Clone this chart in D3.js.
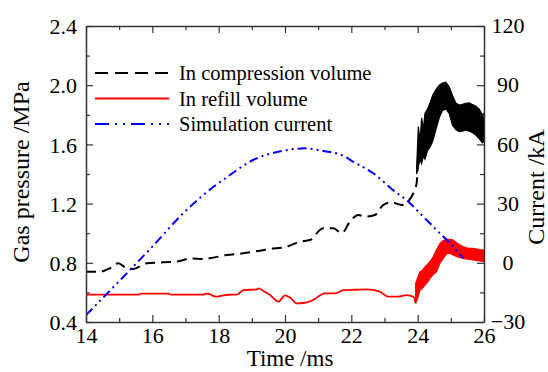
<!DOCTYPE html>
<html><head><meta charset="utf-8">
<script src="https://cdn.jsdelivr.net/npm/d3@7"></script>
<style>
body{margin:0;background:#fff;}
svg{display:block;}
svg text{font-family:"Liberation Serif","Times New Roman",serif !important;}
</style></head>
<body>
<svg id="c" width="548" height="372"></svg>
<script>
// ---- data ----
const xTicks = [14,16,18,20,22,24,26];
const xMinor = [15,17,19,21,23,25];
const pTicks = [0.4,0.8,1.2,1.6,2.0,2.4];
const pMinor = [0.6,1.0,1.4,1.8,2.2];
const iTicks = [-30,0,30,60,90,120];
const iMinor = [-15,15,45,75,105];

// In compression volume (MPa), smooth part
const compT = [14.0,14.42,14.72,14.97,15.23,15.43,15.83,16.33,16.83,17.14,17.54,17.84,18.24,18.74,19.25,19.7,20.0,20.45,20.75,21.15,21.46,21.71,21.96,22.21,22.41,22.71,22.96,23.22,23.52,23.87,23.97,24.0];
const compP = [0.74,0.74,0.763,0.797,0.763,0.758,0.797,0.803,0.812,0.83,0.826,0.835,0.853,0.864,0.882,0.898,0.905,0.943,0.954,1.033,1.033,1.0,1.078,1.123,1.112,1.123,1.19,1.209,1.19,1.27,1.34,1.45];
// In compression volume, oscillating part (envelope)
const compBandT = [23.97,24.02,24.07,24.12,24.17,24.22,24.3,24.37,24.45,24.55,24.65,24.75,24.85,24.95,25.05,25.15,25.25,25.35,25.45,25.55,25.65,25.75,25.85,25.95,26.0];
const compHigh  = [1.45,1.72,1.62,1.78,1.70,1.81,1.84,1.88,1.93,1.97,2.0,2.015,2.02,1.99,1.93,1.88,1.866,1.87,1.878,1.88,1.87,1.86,1.84,1.80,1.81];
const compLow   = [1.40,1.45,1.50,1.47,1.52,1.50,1.56,1.58,1.62,1.70,1.78,1.83,1.84,1.81,1.73,1.70,1.686,1.69,1.697,1.69,1.68,1.664,1.64,1.61,1.62];

// In refill volume (MPa), smooth part
const refillT = [14.0,15.6,15.65,16.5,16.55,17.54,17.62,17.72,17.8,17.94,18.1,18.29,18.55,18.75,19.15,19.2,19.35,19.55,19.8,20.0,20.15,20.35,20.6,20.85,21.2,21.51,21.76,22.1,22.46,22.86,23.11,23.41,23.67,23.87,23.94];
const refillP = [0.585,0.585,0.592,0.592,0.585,0.585,0.592,0.590,0.58,0.571,0.578,0.584,0.585,0.615,0.621,0.627,0.61,0.582,0.537,0.58,0.565,0.526,0.53,0.549,0.594,0.594,0.616,0.618,0.621,0.605,0.571,0.571,0.582,0.571,0.526];
// In refill volume, oscillating part (envelope)
const refillBandT = [23.94,24.0,24.07,24.15,24.22,24.3,24.37,24.47,24.57,24.67,24.77,24.87,24.97,25.07,25.2,25.37,25.5,25.68,25.85,26.0];
const refillHigh  = [0.66,0.70,0.74,0.75,0.773,0.79,0.807,0.841,0.89,0.93,0.95,0.959,0.958,0.954,0.93,0.909,0.90,0.898,0.89,0.886];
const refillLow   = [0.526,0.56,0.616,0.63,0.65,0.67,0.695,0.72,0.74,0.796,0.83,0.86,0.864,0.853,0.84,0.83,0.825,0.819,0.812,0.807];

// Simulation current (kA)
const curT = [14.0,15.0,16.0,16.93,17.54,18.34,19.04,19.95,20.6,21.15,21.71,22.06,22.66,23.32,23.72,24.07,24.57,25.03,25.37];
const curI = [-26.5,-9.3,8.2,25.1,34.4,44.5,52.1,56.8,58.0,56.7,54.6,51.2,45.4,36.0,31.0,25.1,16.6,9.0,2.3];

const legendLabels = ["In compression volume","In refill volume","Simulation current"];

// ---- chart ----
const FONT = '"Liberation Serif","Times New Roman",serif';
const svg = d3.select("#c");
const L=86,R=484,T=26,B=322;
const x = d3.scaleLinear().domain([14,26]).range([L,R]);
const yP = d3.scaleLinear().domain([0.4,2.4]).range([B,T]);
const yI = d3.scaleLinear().domain([-30,120]).range([B,T]);

svg.append("defs").append("clipPath").attr("id","clip")
  .append("rect").attr("x",L).attr("y",T).attr("width",R-L).attr("height",B-T);
const g = svg.append("g").attr("clip-path","url(#clip)");

// black dashed smooth part
g.append("path")
  .datum(compT.map((t,i)=>[t,compP[i]]))
  .attr("d", d3.line().x(d=>x(d[0])).y(d=>yP(d[1])).curve(d3.curveMonotoneX))
  .attr("fill","none").attr("stroke","#000").attr("stroke-width",2)
  .attr("stroke-dasharray","10,6");
// black band
g.append("path")
  .datum(compBandT.map((t,i)=>[t,compHigh[i],compLow[i]]))
  .attr("d", d3.area().x(d=>x(d[0])).y0(d=>yP(d[2])).y1(d=>yP(d[1])))
  .attr("fill","#000").attr("stroke","#000").attr("stroke-width",1.2);

// red smooth part
g.append("path")
  .datum(refillT.map((t,i)=>[t,refillP[i]]))
  .attr("d", d3.line().x(d=>x(d[0])).y(d=>yP(d[1])).curve(d3.curveMonotoneX))
  .attr("fill","none").attr("stroke","#ff0000").attr("stroke-width",1.8);
// red band
g.append("path")
  .datum(refillBandT.map((t,i)=>[t,refillHigh[i],refillLow[i]]))
  .attr("d", d3.area().x(d=>x(d[0])).y0(d=>yP(d[2])).y1(d=>yP(d[1])))
  .attr("fill","#ff0000").attr("stroke","#ff0000").attr("stroke-width",1.2);

// blue current
g.append("path")
  .datum(curT.map((t,i)=>[t,curI[i]]))
  .attr("d", d3.line().x(d=>x(d[0])).y(d=>yI(d[1])).curve(d3.curveMonotoneX))
  .attr("fill","none").attr("stroke","#0000ff").attr("stroke-width",2)
  .attr("stroke-dasharray","9,4,2,4,2,4");

// ---- axes ----
const axColor="#333";
function style(sel){
  sel.attr("font-family",FONT);
  sel.select(".domain").attr("stroke",axColor).attr("stroke-width",1.5);
  sel.selectAll(".tick line").attr("stroke",axColor).attr("stroke-width",1.2);
  sel.selectAll("text").style("font-family",FONT)
     .attr("font-size",22).attr("fill","#000");
}
function minorStyle(s){
  s.select(".domain").remove();
  s.selectAll("line").attr("stroke",axColor).attr("stroke-width",1.2);
}
// bottom
const bx = svg.append("g").attr("transform",`translate(0,${B})`)
  .call(d3.axisBottom(x).tickValues(xTicks).tickSize(-7).tickSizeOuter(0).tickFormat(d3.format("d")));
style(bx); bx.selectAll("text").attr("y",20.5).attr("dy",null);
svg.append("g").attr("transform",`translate(0,${B})`)
  .call(d3.axisBottom(x).tickValues(xMinor).tickSize(-4).tickFormat("")).call(minorStyle);
// top
const tx = svg.append("g").attr("transform",`translate(0,${T})`)
  .call(d3.axisTop(x).tickValues(xTicks).tickSize(-7).tickSizeOuter(0).tickFormat(""));
style(tx);
svg.append("g").attr("transform",`translate(0,${T})`)
  .call(d3.axisTop(x).tickValues(xMinor).tickSize(-4).tickFormat("")).call(minorStyle);
// left
const ly = svg.append("g").attr("transform",`translate(${L},0)`)
  .call(d3.axisLeft(yP).tickValues(pTicks).tickSize(-7).tickSizeOuter(0).tickFormat(d3.format(".1f")));
style(ly); ly.selectAll("text").attr("x",-9).attr("dy","0.35em");
svg.append("g").attr("transform",`translate(${L},0)`)
  .call(d3.axisLeft(yP).tickValues(pMinor).tickSize(-4).tickFormat("")).call(minorStyle);
// right
const ry = svg.append("g").attr("transform",`translate(${R},0)`)
  .call(d3.axisRight(yI).tickValues(iTicks).tickSize(-7).tickSizeOuter(0).tickFormat(d3.format("d")));
style(ry); ry.selectAll("text").attr("x",24).attr("dy","0.3em").attr("text-anchor","middle");
svg.append("g").attr("transform",`translate(${R},0)`)
  .call(d3.axisRight(yI).tickValues(iMinor).tickSize(-4).tickFormat("")).call(minorStyle);

// titles
const titles = svg.append("g").style("font-family",FONT).attr("font-size",24).attr("fill","#000");
titles.append("text").attr("x",290).attr("y",366).attr("font-size",23).attr("text-anchor","middle").text("Time /ms");
titles.append("text").attr("transform","translate(29,172) rotate(-90)").attr("text-anchor","middle").text("Gas pressure /MPa");
titles.append("text").attr("transform","translate(544,187) rotate(-90)").attr("text-anchor","middle").text("Current /kA");

// legend
const legStyles = [
  {stroke:"#000",dash:"13,7",w:2},
  {stroke:"#ff0000",dash:null,w:1.8},
  {stroke:"#0000ff",dash:"14,6,2,6,2,6",w:2}
];
const legY = [73,98.5,124];
const leg = svg.append("g").style("font-family",FONT).attr("font-size",20.5);
legendLabels.forEach((lab,i)=>{
  leg.append("line").attr("x1",95).attr("x2",169).attr("y1",legY[i]).attr("y2",legY[i])
    .attr("stroke",legStyles[i].stroke).attr("stroke-width",legStyles[i].w)
    .attr("stroke-dasharray",legStyles[i].dash);
  leg.append("text").attr("x",179).attr("y",legY[i]+7).text(lab);
});
</script>
</body></html>
